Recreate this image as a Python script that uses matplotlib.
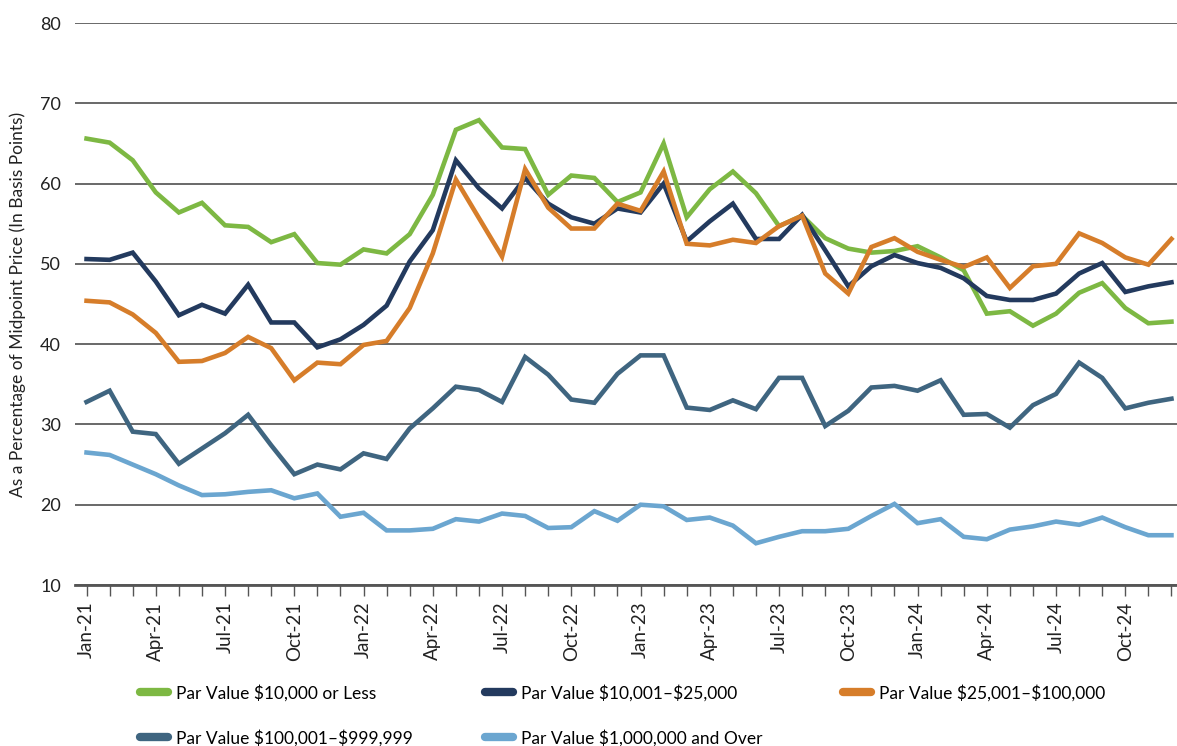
import matplotlib
matplotlib.use("Agg")
import matplotlib.pyplot as plt
import numpy as np

plt.rcParams['font.family'] = ['Lato', 'DejaVu Sans']
plt.rcParams['text.parse_math'] = False

months = ['Jan', 'Feb', 'Mar', 'Apr', 'May', 'Jun', 'Jul', 'Aug', 'Sep', 'Oct', 'Nov', 'Dec']
dates = [m + '-' + y for y in ['21', '22', '23', '24'] for m in months]

small = [65.6, 65.1, 62.9, 58.9, 56.4, 57.6, 54.8, 54.6, 52.7, 53.7, 50.1, 49.9,
         51.8, 51.3, 53.7, 58.6, 66.7, 67.9, 64.5, 64.3, 58.6, 61.0, 60.7, 57.7,
         58.9, 65.0, 55.8, 59.3, 61.5, 58.8, 54.7, 56.0, 53.2, 51.9, 51.4, 51.6,
         52.2, 50.8, 49.2, 43.8, 44.1, 42.3, 43.8, 46.4, 47.6, 44.5, 42.6, 42.8]
mid_small = [50.6, 50.5, 51.4, 47.8, 43.6, 44.9, 43.8, 47.4, 42.7, 42.7, 39.6, 40.6,
             42.4, 44.8, 50.3, 54.2, 62.9, 59.4, 56.9, 60.7, 57.5, 55.8, 55.0, 56.9,
             56.4, 60.0, 52.8, 55.3, 57.5, 53.1, 53.1, 56.1, 51.7, 47.2, 49.7, 51.1,
             50.1, 49.5, 48.2, 46.0, 45.5, 45.5, 46.3, 48.8, 50.1, 46.5, 47.2, 47.7]
mid = [45.4, 45.2, 43.7, 41.4, 37.8, 37.9, 38.9, 40.9, 39.5, 35.5, 37.7, 37.5,
       39.9, 40.4, 44.5, 51.3, 60.5, 55.7, 50.9, 61.8, 57.0, 54.4, 54.4, 57.5,
       56.6, 61.5, 52.5, 52.3, 53.0, 52.6, 54.7, 56.0, 48.8, 46.3, 52.1, 53.2,
       51.5, 50.5, 49.6, 50.8, 47.0, 49.7, 50.0, 53.8, 52.6, 50.8, 49.9, 53.1]
large = [32.8, 34.2, 29.1, 28.8, 25.1, 27.0, 28.9, 31.2, 27.4, 23.8, 25.0, 24.4,
         26.4, 25.7, 29.5, 32.0, 34.7, 34.3, 32.8, 38.4, 36.2, 33.1, 32.7, 36.3,
         38.6, 38.6, 32.1, 31.8, 33.0, 31.9, 35.8, 35.8, 29.8, 31.7, 34.6, 34.8,
         34.2, 35.5, 31.2, 31.3, 29.6, 32.4, 33.8, 37.7, 35.8, 32.0, 32.7, 33.2]
million = [26.5, 26.2, 25.0, 23.8, 22.4, 21.2, 21.3, 21.6, 21.8, 20.8, 21.4, 18.5,
           19.0, 16.8, 16.8, 17.0, 18.2, 17.9, 18.9, 18.6, 17.1, 17.2, 19.2, 18.0,
           20.0, 19.8, 18.1, 18.4, 17.4, 15.2, 16.0, 16.7, 16.7, 17.0, 18.6, 20.1,
           17.7, 18.2, 16.0, 15.7, 16.9, 17.3, 17.9, 17.5, 18.4, 17.2, 16.2, 16.2]

labels = ['Par Value $10,000 or Less', 'Par Value $10,001\u2013$25,000',
          'Par Value $25,001\u2013$100,000', 'Par Value $100,001\u2013$999,999',
          'Par Value $1,000,000 and Over']
colors = ['#7DB843', '#233A5E', '#D67D2A', '#3F6580', '#6BA6D0']
series = [small, mid_small, mid, large, million]

fig = plt.figure(figsize=(11.77, 7.46), dpi=100)
ax = fig.add_axes([75 / 1177, 161 / 746, 1108 / 1177, 562 / 746])

x = np.arange(len(dates))
lines = []
for vals, c, lab in zip(series, colors, labels):
    ln, = ax.plot(x, vals, color=c, lw=3.3, label=lab, solid_joinstyle='miter')
    lines.append(ln)

ax.set_ylim(10, 80)
ax.set_xlim(-0.5, len(dates) - 0.5)
ax.set_yticks(range(10, 81, 10))
ax.yaxis.grid(True, color='#404040', lw=1.1)
ax.set_axisbelow(True)
for s in ['top', 'right', 'left']:
    ax.spines[s].set_visible(False)
ax.spines['bottom'].set_color('#555555')
ax.spines['bottom'].set_linewidth(2)
ax.tick_params(axis='y', length=0, labelsize=13, pad=10, labelcolor='#222222')

ax.set_xticks(x)
ax.set_xticklabels([d if i % 3 == 0 else '' for i, d in enumerate(dates)],
                   rotation=90, fontsize=13.5)
ax.tick_params(axis='x', length=8, width=1, color='#555555', pad=4, labelcolor='#222222')

ax.set_ylabel('As a Percentage of Midpoint Price (In Basis Points)', fontsize=12.5,
              labelpad=10, color='#222222')

# legend entries placed in figure pixels
pos = [(140, 693), (485, 693), (843, 693), (140, 738), (485, 738)]
for ln, (px, py) in zip(lines, pos):
    leg = fig.legend([ln], [ln.get_label()], loc='center left',
                     bbox_to_anchor=(px / 1177, 1 - py / 746), frameon=False,
                     borderpad=0, borderaxespad=0, handlelength=1.6,
                     handletextpad=0.5, fontsize=12.5)
    for h in leg.legend_handles:
        h.set_linewidth(6)
        h.set_solid_capstyle('round')

fig.savefig('out.png', dpi=100)
